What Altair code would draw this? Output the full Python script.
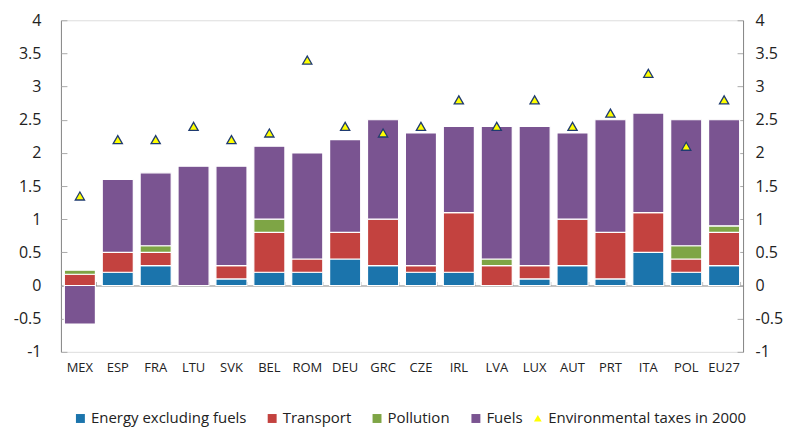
import altair as alt
import pandas as pd

countries = ["MEX", "ESP", "FRA", "LTU", "SVK", "BEL", "ROM", "DEU", "GRC",
             "CZE", "IRL", "LVA", "LUX", "AUT", "PRT", "ITA", "POL", "EU27"]
energy = [0.0, 0.2, 0.3, 0.0, 0.1, 0.2, 0.2, 0.4, 0.3, 0.2, 0.2, 0.0, 0.1, 0.3, 0.1, 0.5, 0.2, 0.3]
transport = [0.17, 0.3, 0.2, 0.0, 0.2, 0.6, 0.2, 0.4, 0.7, 0.1, 0.9, 0.3, 0.2, 0.7, 0.7, 0.6, 0.2, 0.5]
pollution = [0.06, 0.0, 0.1, 0.0, 0.0, 0.2, 0.0, 0.0, 0.0, 0.0, 0.0, 0.1, 0.0, 0.0, 0.0, 0.0, 0.2, 0.1]
fuels = [-0.58, 1.1, 1.1, 1.8, 1.5, 1.1, 1.6, 1.4, 1.5, 2.0, 1.3, 2.0, 2.1, 1.3, 1.7, 1.5, 1.9, 1.6]
taxes2000 = [1.35, 2.2, 2.2, 2.4, 2.2, 2.3, 3.4, 2.4, 2.3, 2.4, 2.8, 2.4, 2.8, 2.4, 2.6, 3.2, 2.1, 2.8]

series_names = ["Energy excluding fuels", "Transport", "Pollution", "Fuels"]
series_colors = ["#1B74AC", "#C3423F", "#7EA545", "#7A5491"]
point_label = "Environmental taxes in 2000"
y_ticks = [-1, -0.5, 0, 0.5, 1, 1.5, 2, 2.5, 3, 3.5, 4]

rows = []
for i, c in enumerate(countries):
    for k, vals in enumerate([energy, transport, pollution, fuels]):
        if vals[i] != 0:
            rows.append({"country": c, "series": series_names[k], "value": vals[i], "ord": k})
bars_df = pd.DataFrame(rows)
pts_df = pd.DataFrame({"country": countries, "taxes": taxes2000, "label": point_label})

W, H = 683, 332
FONT = "Open Sans"
GRAY = "#868686"
zero_offset = -H * 4 / 5
LEG_Y = 391


def xs():
    return alt.Scale(domain=countries, paddingInner=0.18, paddingOuter=0.09)


def ys():
    return alt.Scale(domain=[-1, 4], nice=False, zero=False)


bars = alt.Chart(bars_df).mark_bar(stroke="white", strokeWidth=1.2).encode(
    x=alt.X("country:N", scale=xs(), sort=countries,
            axis=alt.Axis(title=None, labelAngle=0, domain=False, ticks=False,
                          labelFontSize=13, labelPadding=10, labelColor="#222222", labelFont=FONT)),
    y=alt.Y("value:Q", stack="zero", scale=ys(),
            axis=alt.Axis(title=None, orient="left", values=y_ticks, domain=True, domainColor=GRAY,
                          ticks=False, grid=False, labelFontSize=16, labelPadding=20,
                          labelColor="#222222", labelFont=FONT, labelExpr="toString(datum.value)")),
    color=alt.Color("series:N", scale=alt.Scale(domain=series_names, range=series_colors),
                    legend=alt.Legend(title=None, orient="none", direction="horizontal",
                                      legendX=12, legendY=LEG_Y, symbolType="square", symbolSize=80,
                                      symbolStrokeWidth=0, labelFontSize=15, labelFont=FONT,
                                      labelColor="#222222", columnPadding=18, labelOffset=3,
                                      labelLimit=0)),
    order=alt.Order("ord:Q"),
)

pts = alt.Chart(pts_df).mark_point(shape="triangle-up", filled=True, fill="#FFFF00", stroke="#1F3B70",
                                   strokeWidth=1.3, size=85, opacity=1).encode(
    x=alt.X("country:N", scale=xs(), sort=countries, axis=None),
    y=alt.Y("taxes:Q", scale=ys(),
            axis=alt.Axis(title=None, orient="right", values=y_ticks, domain=True, domainColor=GRAY,
                          ticks=False, grid=False, labelFontSize=16, labelPadding=12,
                          labelColor="#222222", labelFont=FONT, labelExpr="toString(datum.value)")),
    shape=alt.Shape("label:N", scale=alt.Scale(domain=[point_label], range=["triangle-up"]),
                    legend=alt.Legend(title=None, orient="none", legendX=470, legendY=LEG_Y,
                                      symbolFillColor="#FFFF00", symbolStrokeColor="#1F3B70",
                                      symbolStrokeWidth=1.2, symbolSize=60, labelFontSize=15,
                                      labelFont=FONT, labelColor="#222222", labelOffset=3,
                                      labelLimit=0)),
)

# inward ticks / zero line via extra axes
zero_axis = alt.Chart(pts_df).mark_point(opacity=0).encode(
    x=alt.X("country:N", scale=xs(), sort=countries,
            axis=alt.Axis(title=None, orient="top", offset=zero_offset, labels=False,
                          domain=True, domainColor=GRAY, ticks=True, tickColor="#AAAAAA",
                          tickSize=4, tickBand="extent")),
    y=alt.Y("taxes:Q", scale=ys(),
            axis=alt.Axis(title=None, orient="left", offset=-W, values=y_ticks, labels=False,
                          domain=False, ticks=True, tickColor="#AAAAAA", tickSize=6, grid=False)),
)

left_ticks = alt.Chart(pts_df).mark_point(opacity=0).encode(
    x=alt.X("country:N", scale=xs(), sort=countries, axis=None),
    y=alt.Y("taxes:Q", scale=ys(),
            axis=alt.Axis(title=None, orient="right", offset=-W, values=y_ticks, labels=False,
                          domain=False, ticks=True, tickColor="#AAAAAA", tickSize=6, grid=False)),
)

chart = alt.layer(bars, zero_axis, left_ticks, pts).resolve_scale(
    x="independent", y="independent", color="independent", shape="independent"
).properties(
    width=W, height=H, padding={"left": 5, "top": 4, "right": 5, "bottom": 5}
).configure_view(stroke=None).configure(font=FONT)

chart.save("out.html", embed_options={"renderer": "svg", "actions": False})
